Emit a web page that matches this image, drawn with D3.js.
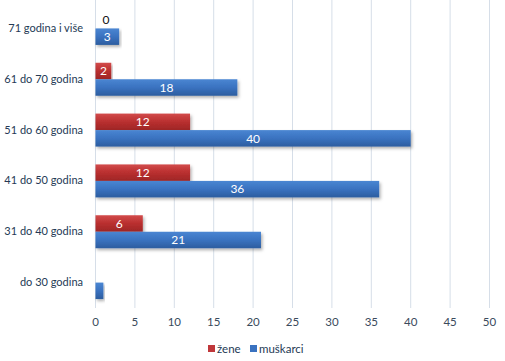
<!DOCTYPE html>
<html>
<head>
<meta charset="utf-8">
<script src="https://cdn.jsdelivr.net/npm/d3@7"></script>
<style>
  body { margin: 0; background: #fff; }
  svg { font-family: Lato, "Open Sans", sans-serif; }
</style>
</head>
<body>
<div id="chart"></div>
<script>
// categories top to bottom
const categories = ["71 godina i više", "61 do 70 godina", "51 do 60 godina", "41 do 50 godina", "31 do 40 godina", "do 30 godina"];
const zene = [0, 2, 12, 12, 6, 0];
const muskarci = [3, 18, 40, 36, 21, 1];
const showLabel = [true, true, true, true, true, false];
const xTicks = [0, 5, 10, 15, 20, 25, 30, 35, 40, 45, 50];
const seriesNames = ["žene", "muškarci"];

const W = 505, H = 361;
const margin = { top: 3, right: 16, bottom: 54, left: 95 };
const width = W - margin.left - margin.right;
const height = H - margin.top - margin.bottom;

const svgRoot = d3.select("#chart")
  .append("svg")
  .attr("width", W)
  .attr("height", H);

const defs = svgRoot.append("defs");
const grads = [
  { id: "gRed", c: ["#d24b4b", "#b92f2f", "#9e2626"] },
  { id: "gBlue", c: ["#4a86d2", "#3a72c0", "#2c5d9f"] }
];
grads.forEach(g => {
  const lg = defs.append("linearGradient").attr("id", g.id)
    .attr("x1", 0).attr("y1", 0).attr("x2", 0).attr("y2", 1);
  lg.append("stop").attr("offset", "0%").attr("stop-color", g.c[0]);
  lg.append("stop").attr("offset", "50%").attr("stop-color", g.c[1]);
  lg.append("stop").attr("offset", "100%").attr("stop-color", g.c[2]);
});
const filt = defs.append("filter").attr("id", "shadow")
  .attr("x", "-5%").attr("y", "-20%").attr("width", "115%").attr("height", "160%");
filt.append("feDropShadow").attr("dx", 1.5).attr("dy", 2).attr("stdDeviation", 1.5)
  .attr("flood-color", "#000").attr("flood-opacity", 0.3);

const svg = svgRoot.append("g")
  .attr("transform", `translate(${margin.left},${margin.top})`);

const x = d3.scaleLinear().domain([0, 50]).range([0, 394]);

const y = d3.scaleBand()
  .domain(categories)
  .range([0, 305]);

const inner = d3.scaleBand()
  .domain([0, 1])
  .range([y.bandwidth() / 2 - 16.5, y.bandwidth() / 2 + 16.5]);

// gridlines
svg.append("g")
  .selectAll("line")
  .data(xTicks)
  .enter()
  .append("line")
  .attr("x1", d => x(d) + 0.5)
  .attr("x2", d => x(d) + 0.5)
  .attr("y1", -3)
  .attr("y2", 305)
  .attr("stroke", "#d6dee8")
  .attr("stroke-width", 1);

// x axis labels
const xAxis = svg.append("g")
  .attr("transform", `translate(0,${305})`)
  .call(d3.axisBottom(x).tickValues(xTicks).tickSize(0).tickPadding(10));
xAxis.select(".domain").remove();
xAxis.selectAll("text")
  .style("font-size", "11.5px")
  .style("font-family", "Lato, sans-serif")
  .attr("fill", "#3a4a5c");

// y axis labels
const yAxis = svg.append("g")
  .call(d3.axisLeft(y).tickSize(0).tickPadding(12));
yAxis.select(".domain").remove();
yAxis.selectAll("text")
  .style("font-size", "11px")
  .style("font-family", "Lato, sans-serif")
  .attr("fill", "#243a55");

const rows = categories.map((c, i) => ({ cat: c, vals: [zene[i], muskarci[i]], show: showLabel[i] }));

const groups = svg.selectAll(".grp")
  .data(rows)
  .enter()
  .append("g")
  .attr("class", "grp")
  .attr("transform", d => `translate(0,${y(d.cat)})`);

const bars = groups.selectAll(".bar")
  .data(d => d.vals.map((v, k) => ({ v, k, show: d.show })))
  .enter();

bars.append("rect")
  .filter(d => d.v > 0)
  .attr("class", "bar")
  .attr("x", x(0) + 0.5)
  .attr("y", d => inner(d.k))
  .attr("width", d => x(d.v))
  .attr("height", inner.bandwidth())
  .attr("fill", d => d.k === 0 ? "url(#gRed)" : "url(#gBlue)")
  .attr("filter", "url(#shadow)");

groups.selectAll(".lbl")
  .data(d => d.vals.map((v, k) => ({ v, k, show: d.show })).filter(d => d.show))
  .enter()
  .append("text")
  .attr("class", "lbl")
  .attr("x", d => d.v === 0 ? x(0) + 11 : x(d.v / 2) + 0.5)
  .attr("y", d => inner(d.k) + inner.bandwidth() / 2)
  .attr("dy", "0.36em")
  .attr("text-anchor", "middle")
  .style("font-size", "12px")
  .attr("fill", d => d.v === 0 ? "#111" : "#fff")
  .text(d => d.v);

// legend
const legend = svgRoot.append("g")
  .attr("transform", "translate(208,349)");
const lx = [0, 42];
const lcol = ["#c0373a", "#3a72c0"];
seriesNames.forEach((n, i) => {
  legend.append("rect")
    .attr("x", lx[i]).attr("y", -4)
    .attr("width", 7).attr("height", 7)
    .attr("fill", lcol[i]);
  legend.append("text")
    .attr("x", lx[i] + 9).attr("y", 0)
    .attr("dy", "0.35em")
    .style("font-size", "11.5px")
    .attr("fill", "#243a55")
    .text(n);
});
</script>
</body>
</html>
